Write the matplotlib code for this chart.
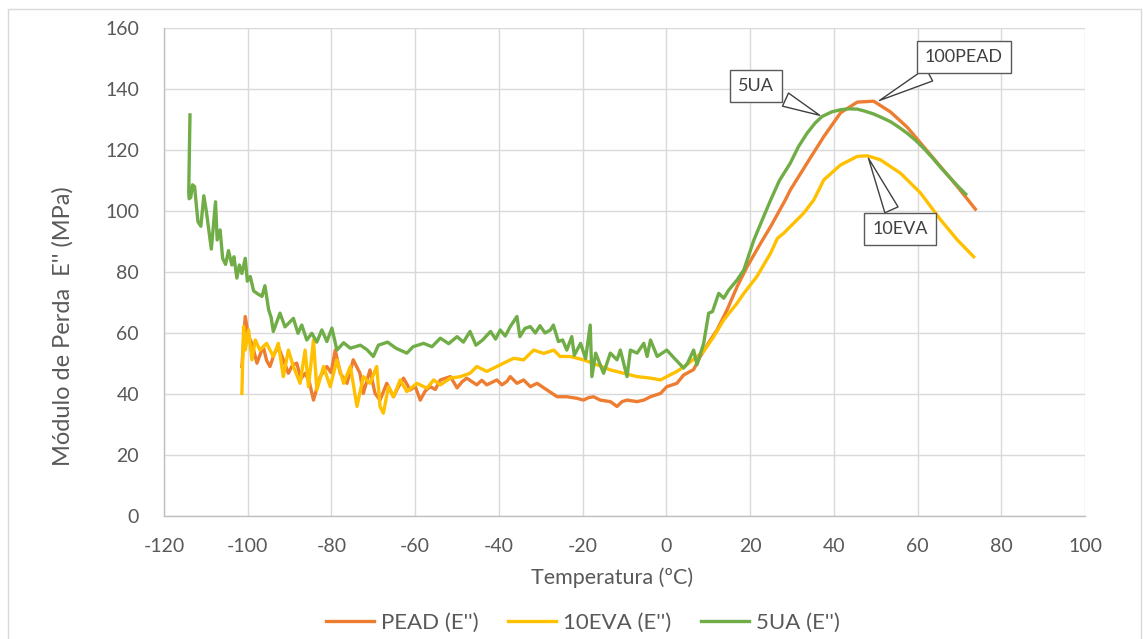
import matplotlib
matplotlib.use("Agg")
import matplotlib.pyplot as plt
from matplotlib.patches import Rectangle

plt.rcParams['font.family'] = ['Lato', 'DejaVu Sans']
plt.rcParams['axes.unicode_minus'] = False

# PEAD (E'')
t_pead = [-101.4, -100.6, -99.8, -99.0, -97.8, -96.9, -96.3, -95.5, -94.7, -93.7, -92.7, -91.5, -90.3,
          -89.3, -88.3, -87.3, -86.3, -85.3, -84.3, -82.7, -81.1, -80.1, -79.1, -77.9, -76.3, -74.8,
          -73.2, -72.4, -70.8, -69.6, -68.4, -66.8, -65.2, -64.0, -62.8, -61.2, -60.0, -58.8, -57.6,
          -56.4, -55.2, -54.0, -51.6, -50.0, -48.8, -47.7, -45.3, -44.1, -42.9, -40.5, -39.3, -38.1,
          -37.3, -35.7, -34.1, -32.5, -30.9, -28.5, -26.1, -23.8, -21.4, -19.8, -18.6, -17.4, -15.8,
          -13.4, -11.8, -10.6, -9.4, -7.0, -5.4, -3.8, -1.4, 0.1, 2.5, 4.1, 6.5, 8.1, 10.5, 12.1,
          14.5, 16.9, 19.3, 22.5, 24.9, 28.4, 29.6, 33.6, 37.6, 41.6, 45.6, 49.5, 53.5, 57.5, 61.5,
          65.5, 69.5, 73.8]
v_pead = [49.0, 65.4, 58.8, 56.6, 50.1, 53.5, 55.5, 51.0, 49.0, 53.0, 55.5, 51.2, 46.8,
          49.5, 50.1, 45.0, 46.8, 44.0, 38.0, 45.7, 49.0, 47.0, 54.4, 46.8, 43.5, 51.2,
          46.8, 40.2, 47.9, 40.2, 38.0, 43.5, 39.1, 42.4, 45.2, 41.3, 42.5, 38.0, 41.0,
          42.4, 41.5, 44.6, 45.7, 42.0, 44.0, 45.2, 43.0, 44.5, 43.0, 44.6, 43.0, 44.1,
          45.7, 43.5, 44.6, 42.4, 43.5, 41.3, 39.1, 39.1, 38.6, 38.0, 38.8, 39.1, 38.0,
          37.5, 35.9, 37.5, 38.0, 37.5, 38.0, 39.1, 40.2, 42.4, 43.5, 46.2, 48.0, 52.3, 57.7, 61.0,
          67.6, 75.2, 81.8, 89.4, 94.9, 103.6, 106.9, 115.7, 124.4, 132.2, 135.7, 136.0, 132.5, 127.5, 121.0,
          114.5, 108.0, 100.6]

# 10EVA (E'')
t_eva = [-101.4, -101.0, -100.6, -99.8, -99.0, -98.2, -97.1, -95.5, -93.9, -92.7, -91.5, -90.3, -89.1,
         -87.5, -86.3, -85.5, -84.3, -83.5, -81.9, -80.3, -78.7, -77.1, -75.5, -73.9, -72.4, -70.8,
         -69.2, -68.4, -67.6, -66.4, -65.2, -63.6, -62.0, -59.6, -57.2, -55.6, -54.0, -51.6, -49.2,
         -46.9, -45.3, -42.9, -40.5, -38.9, -36.5, -34.1, -31.7, -29.3, -26.9, -25.4, -23.0, -19.8,
         -16.6, -13.4, -10.2, -7.0, -3.8, -1.4, 0.1, 2.5, 4.9, 7.3, 8.9, 11.3, 13.7, 16.9, 18.5,
         21.6, 24.9, 26.5, 28.0, 29.6, 32.8, 35.2, 37.6, 41.6, 45.6, 48.0, 51.1, 55.9, 60.7, 65.5,
         69.5, 73.4]
v_eva = [40.2, 62.1, 54.4, 61.0, 51.2, 57.7, 54.4, 56.6, 52.3, 56.6, 45.7, 54.4, 49.0,
         43.5, 54.4, 42.4, 57.7, 41.3, 49.0, 42.4, 51.2, 43.5, 49.0, 35.9, 45.7, 43.5,
         49.0, 35.9, 33.7, 42.4, 39.1, 44.6, 40.8, 43.5, 41.9, 44.6, 43.0, 45.2, 45.7,
         46.8, 49.0, 47.4, 49.0, 50.1, 51.7, 51.2, 54.4, 53.3, 54.4, 52.3, 52.3, 51.2,
         49.6, 47.9, 46.8, 45.7, 45.2, 44.6, 45.7, 47.4, 49.6, 52.3, 54.0, 58.8, 64.3, 69.8, 73.0,
         78.5, 86.2, 91.0, 92.7, 94.9, 99.3, 103.6, 110.2, 115.1, 117.9, 118.1, 116.8, 112.4, 105.9, 97.1,
         90.5, 85.0]

# 5UA (E'')
t_ua = [-113.8, -114.1, -114.0, -113.6, -113.2, -112.7, -111.9, -111.2, -110.5, -109.9, -108.7, -107.7,
        -107.3, -106.6, -106.0, -105.3, -104.6, -103.8, -103.3, -102.6, -102.0, -101.4, -100.6, -100.1,
        -99.4, -98.6, -97.8, -96.6, -95.9, -95.0, -94.4, -93.9, -92.3, -91.1, -89.1, -88.0, -87.1,
        -85.9, -84.7, -83.5, -82.3, -81.1, -79.9, -78.7, -77.1, -75.5, -73.1, -71.5, -70.0, -68.8,
        -66.6, -64.6, -63.0, -62.0, -60.5, -58.0, -56.0, -54.0, -52.0, -50.0, -48.5, -46.9, -45.5,
        -43.9, -42.0, -40.8, -39.7, -38.5, -37.3, -35.7, -35.0, -33.8, -32.5, -31.3, -30.2, -29.0,
        -27.7, -27.0, -25.8, -24.8, -23.8, -22.6, -22.0, -20.5, -19.3, -18.2, -17.8, -16.9, -15.0,
        -13.4, -11.8, -11.0, -9.4, -8.6, -7.0, -5.4, -4.6, -3.8, -2.2, 0.1, 1.7, 4.1, 5.0, 6.5, 7.3,
        8.9, 10.1, 11.0, 12.5, 13.7, 14.9, 16.9, 18.5, 20.9, 22.9, 24.9, 27.0, 29.6, 31.5, 33.6,
        35.5, 37.2, 39.5, 41.6, 43.5, 45.6, 47.5, 49.5, 51.5, 53.5, 55.5, 57.5, 59.5, 61.5, 63.5,
        65.5, 67.5, 69.5, 71.5]
v_ua = [131.5, 106.0, 104.0, 104.5, 108.6, 108.0, 96.5, 95.0, 105.0, 100.0, 87.5, 103.0,
        90.5, 93.8, 84.5, 82.5, 87.0, 82.3, 85.0, 78.0, 82.3, 79.5, 84.5, 77.0,
        78.5, 73.8, 73.0, 72.0, 75.5, 67.6, 65.0, 60.5, 66.5, 62.0, 64.8, 59.9, 62.6,
        57.7, 59.9, 57.0, 61.0, 57.2, 61.6, 54.4, 56.8, 55.0, 56.0, 54.5, 52.3, 56.0,
        57.0, 55.0, 54.0, 53.4, 55.5, 56.6, 55.5, 58.3, 56.5, 58.8, 57.0, 60.5, 56.0,
        57.7, 60.5, 58.0, 61.0, 59.0, 62.1, 65.4, 58.8, 61.5, 62.1, 60.0, 62.4, 60.0,
        61.0, 62.6, 57.2, 57.7, 54.4, 58.8, 52.7, 56.6, 51.6, 62.6, 45.7, 53.4, 46.8,
        53.4, 51.2, 54.4, 45.7, 54.4, 53.4, 56.6, 52.3, 57.7, 52.3, 54.4, 52.0, 48.5, 50.0, 54.4, 49.6,
        56.6, 66.5, 67.0, 73.0, 71.4, 74.1, 77.4, 80.7, 90.5, 97.1, 103.6, 110.0, 115.7, 121.0, 125.5,
        128.8, 131.0, 132.5, 133.2, 133.5, 133.4, 132.7, 131.8, 130.6, 129.3, 127.5, 125.5, 123.2, 120.5, 117.5,
        114.3, 111.3, 108.3, 105.5]

fig = plt.figure(figsize=(11.43, 6.39), dpi=100)
ax = fig.add_axes([0.1435, 0.1925, 0.8058, 0.7637])

ax.plot(t_pead, v_pead, color='#ED7D31', lw=2.4, label="PEAD (E'')")
ax.plot(t_eva, v_eva, color='#FFC000', lw=2.4, label="10EVA (E'')")
ax.plot(t_ua, v_ua, color='#70AD47', lw=2.4, label="5UA (E'')")

ax.set_xlim(-120, 100)
ax.set_ylim(0, 160)
ax.set_xticks(range(-120, 101, 20))
ax.set_yticks(range(0, 161, 20))
ax.grid(True, color='#d9d9d9', lw=1)
ax.set_axisbelow(True)
for s in ['top', 'right']:
    ax.spines[s].set_visible(False)
for s in ['left', 'bottom']:
    ax.spines[s].set_color('#bfbfbf')
    ax.spines[s].set_linewidth(1)
ax.tick_params(length=0, labelsize=14, labelcolor='#595959')
ax.tick_params(axis='y', pad=18)
ax.tick_params(axis='x', pad=16)

ax.set_xlabel('Temperatura (ºC)', fontsize=15.5, color='#595959')
ax.xaxis.set_label_coords(0.487, -0.105)
ax.set_ylabel("Módulo de Perda  E'' (MPa)", fontsize=17, color='#595959')
ax.yaxis.set_label_coords(-0.098, 0.39)

box = dict(boxstyle='square,pad=0.45', fc='white', ec='#595959', lw=1)
arrow = dict(arrowstyle='wedge,tail_width=0.8,shrink_factor=0.5', fc='white', ec='#404040', lw=1)
ax.annotate('100PEAD', xy=(50.3, 135.8), xytext=(71.0, 150.6), ha='center', va='center',
            fontsize=13, color='#404040', bbox=box, arrowprops=arrow)
ax.annotate('5UA', xy=(37.2, 131.0), xytext=(21.5, 140.9), ha='center', va='center',
            fontsize=13, color='#404040', bbox=box, arrowprops=arrow)
ax.annotate('10EVA', xy=(48.0, 118.1), xytext=(55.8, 94.1), ha='center', va='center',
            fontsize=13, color='#404040', bbox=box, arrowprops=arrow)

leg = fig.legend(loc='center', bbox_to_anchor=(0.51, 0.026), ncol=3, frameon=False,
                 fontsize=16, handlelength=2.15, columnspacing=1.35, handletextpad=0.3)
for txt in leg.get_texts():
    txt.set_color('#595959')

fig.add_artist(Rectangle((0.007, -0.01), 0.991, 0.996, transform=fig.transFigure,
                         fill=False, ec='#d9d9d9', lw=1))

fig.savefig('out.png', dpi=100)
